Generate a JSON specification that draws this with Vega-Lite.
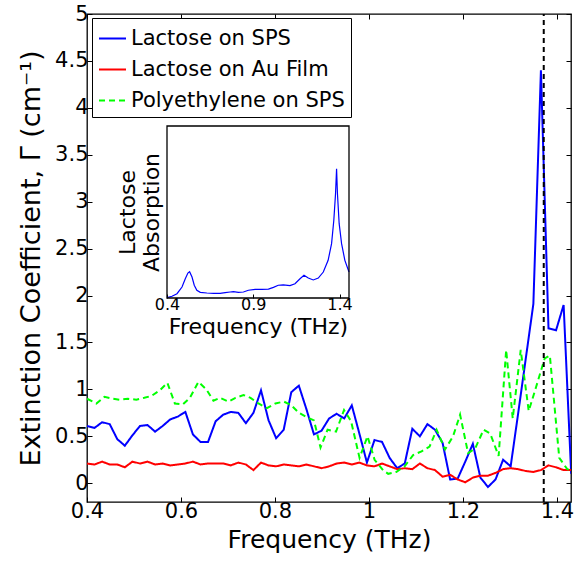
{
  "$schema": "https://vega.github.io/schema/vega-lite/v6.json",
  "width": 484,
  "height": 488,
  "autosize": {"type": "none"},
  "padding": {"left": 87, "top": 14, "right": 6, "bottom": 61},
  "background": "white",
  "config": {
    "font": "DejaVu Sans",
    "view": {"stroke": "black", "strokeWidth": 1.3},
    "axis": {"grid": false, "labelColor": "black", "titleColor": "black", "tickColor": "black", "titleFontWeight": "normal", "labelFlush": false, "labelOverlap": false}
  },
  "datasets": {
    "main": [
      {"s":"Lactose on SPS","f":0.4,"v":0.61},{"s":"Lactose on SPS","f":0.4161,"v":0.59},{"s":"Lactose on SPS","f":0.4322,"v":0.65},{"s":"Lactose on SPS","f":0.4483,"v":0.63},{"s":"Lactose on SPS","f":0.4644,"v":0.47},
      {"s":"Lactose on SPS","f":0.4805,"v":0.40},{"s":"Lactose on SPS","f":0.4966,"v":0.51},{"s":"Lactose on SPS","f":0.5127,"v":0.61},{"s":"Lactose on SPS","f":0.5288,"v":0.62},{"s":"Lactose on SPS","f":0.5449,"v":0.55},
      {"s":"Lactose on SPS","f":0.561,"v":0.61},{"s":"Lactose on SPS","f":0.5771,"v":0.68},{"s":"Lactose on SPS","f":0.5932,"v":0.71},{"s":"Lactose on SPS","f":0.6093,"v":0.76},{"s":"Lactose on SPS","f":0.6254,"v":0.52},
      {"s":"Lactose on SPS","f":0.6415,"v":0.44},{"s":"Lactose on SPS","f":0.6576,"v":0.44},{"s":"Lactose on SPS","f":0.6737,"v":0.66},{"s":"Lactose on SPS","f":0.6898,"v":0.73},{"s":"Lactose on SPS","f":0.7059,"v":0.76},
      {"s":"Lactose on SPS","f":0.722,"v":0.75},{"s":"Lactose on SPS","f":0.7381,"v":0.64},{"s":"Lactose on SPS","f":0.7542,"v":0.75},{"s":"Lactose on SPS","f":0.7703,"v":0.99},{"s":"Lactose on SPS","f":0.7864,"v":0.67},
      {"s":"Lactose on SPS","f":0.8025,"v":0.48},{"s":"Lactose on SPS","f":0.8186,"v":0.57},{"s":"Lactose on SPS","f":0.8347,"v":0.97},{"s":"Lactose on SPS","f":0.8508,"v":1.04},{"s":"Lactose on SPS","f":0.8669,"v":0.79},
      {"s":"Lactose on SPS","f":0.883,"v":0.52},{"s":"Lactose on SPS","f":0.8991,"v":0.56},{"s":"Lactose on SPS","f":0.9152,"v":0.69},{"s":"Lactose on SPS","f":0.9313,"v":0.74},{"s":"Lactose on SPS","f":0.9474,"v":0.69},
      {"s":"Lactose on SPS","f":0.9635,"v":0.83},{"s":"Lactose on SPS","f":0.9796,"v":0.53},{"s":"Lactose on SPS","f":0.9957,"v":0.22},{"s":"Lactose on SPS","f":1.0118,"v":0.46},{"s":"Lactose on SPS","f":1.0279,"v":0.44},
      {"s":"Lactose on SPS","f":1.044,"v":0.27},{"s":"Lactose on SPS","f":1.0601,"v":0.16},{"s":"Lactose on SPS","f":1.0762,"v":0.21},{"s":"Lactose on SPS","f":1.0923,"v":0.58},{"s":"Lactose on SPS","f":1.1084,"v":0.50},
      {"s":"Lactose on SPS","f":1.1245,"v":0.63},{"s":"Lactose on SPS","f":1.1406,"v":0.57},{"s":"Lactose on SPS","f":1.1567,"v":0.43},{"s":"Lactose on SPS","f":1.1728,"v":0.04},{"s":"Lactose on SPS","f":1.1889,"v":0.05},
      {"s":"Lactose on SPS","f":1.205,"v":0.23},{"s":"Lactose on SPS","f":1.2211,"v":0.42},{"s":"Lactose on SPS","f":1.2372,"v":0.06},{"s":"Lactose on SPS","f":1.2533,"v":-0.04},{"s":"Lactose on SPS","f":1.2694,"v":0.04},
      {"s":"Lactose on SPS","f":1.2855,"v":0.25},{"s":"Lactose on SPS","f":1.3016,"v":0.18},{"s":"Lactose on SPS","f":1.3177,"v":0.75},{"s":"Lactose on SPS","f":1.3338,"v":1.33},{"s":"Lactose on SPS","f":1.3499,"v":1.91},
      {"s":"Lactose on SPS","f":1.366,"v":4.40},{"s":"Lactose on SPS","f":1.3821,"v":1.65},{"s":"Lactose on SPS","f":1.3982,"v":1.63},{"s":"Lactose on SPS","f":1.4143,"v":1.90},{"s":"Lactose on SPS","f":1.4304,"v":0.10},

      {"s":"Lactose on Au Film","f":0.4,"v":0.21},{"s":"Lactose on Au Film","f":0.4161,"v":0.20},{"s":"Lactose on Au Film","f":0.4322,"v":0.23},{"s":"Lactose on Au Film","f":0.4483,"v":0.20},{"s":"Lactose on Au Film","f":0.4644,"v":0.20},
      {"s":"Lactose on Au Film","f":0.4805,"v":0.17},{"s":"Lactose on Au Film","f":0.4966,"v":0.23},{"s":"Lactose on Au Film","f":0.5127,"v":0.21},{"s":"Lactose on Au Film","f":0.5288,"v":0.23},{"s":"Lactose on Au Film","f":0.5449,"v":0.20},
      {"s":"Lactose on Au Film","f":0.561,"v":0.21},{"s":"Lactose on Au Film","f":0.5771,"v":0.19},{"s":"Lactose on Au Film","f":0.5932,"v":0.20},{"s":"Lactose on Au Film","f":0.6093,"v":0.21},{"s":"Lactose on Au Film","f":0.6254,"v":0.23},
      {"s":"Lactose on Au Film","f":0.6415,"v":0.20},{"s":"Lactose on Au Film","f":0.6576,"v":0.21},{"s":"Lactose on Au Film","f":0.6737,"v":0.21},{"s":"Lactose on Au Film","f":0.6898,"v":0.21},{"s":"Lactose on Au Film","f":0.7059,"v":0.19},
      {"s":"Lactose on Au Film","f":0.722,"v":0.22},{"s":"Lactose on Au Film","f":0.7381,"v":0.20},{"s":"Lactose on Au Film","f":0.7542,"v":0.14},{"s":"Lactose on Au Film","f":0.7703,"v":0.22},{"s":"Lactose on Au Film","f":0.7864,"v":0.19},
      {"s":"Lactose on Au Film","f":0.8025,"v":0.18},{"s":"Lactose on Au Film","f":0.8186,"v":0.20},{"s":"Lactose on Au Film","f":0.8347,"v":0.19},{"s":"Lactose on Au Film","f":0.8508,"v":0.18},{"s":"Lactose on Au Film","f":0.8669,"v":0.20},
      {"s":"Lactose on Au Film","f":0.883,"v":0.18},{"s":"Lactose on Au Film","f":0.8991,"v":0.16},{"s":"Lactose on Au Film","f":0.9152,"v":0.18},{"s":"Lactose on Au Film","f":0.9313,"v":0.21},{"s":"Lactose on Au Film","f":0.9474,"v":0.22},
      {"s":"Lactose on Au Film","f":0.9635,"v":0.20},{"s":"Lactose on Au Film","f":0.9796,"v":0.22},{"s":"Lactose on Au Film","f":0.9957,"v":0.19},{"s":"Lactose on Au Film","f":1.0118,"v":0.18},{"s":"Lactose on Au Film","f":1.0279,"v":0.21},
      {"s":"Lactose on Au Film","f":1.044,"v":0.18},{"s":"Lactose on Au Film","f":1.0601,"v":0.15},{"s":"Lactose on Au Film","f":1.0762,"v":0.16},{"s":"Lactose on Au Film","f":1.0923,"v":0.15},{"s":"Lactose on Au Film","f":1.1084,"v":0.21},
      {"s":"Lactose on Au Film","f":1.1245,"v":0.16},{"s":"Lactose on Au Film","f":1.1406,"v":0.14},{"s":"Lactose on Au Film","f":1.1567,"v":0.07},{"s":"Lactose on Au Film","f":1.1728,"v":0.09},{"s":"Lactose on Au Film","f":1.1889,"v":0.04},
      {"s":"Lactose on Au Film","f":1.205,"v":0.01},{"s":"Lactose on Au Film","f":1.2211,"v":0.06},{"s":"Lactose on Au Film","f":1.2372,"v":0.08},{"s":"Lactose on Au Film","f":1.2533,"v":0.08},{"s":"Lactose on Au Film","f":1.2694,"v":0.11},
      {"s":"Lactose on Au Film","f":1.2855,"v":0.15},{"s":"Lactose on Au Film","f":1.3016,"v":0.16},{"s":"Lactose on Au Film","f":1.3177,"v":0.15},{"s":"Lactose on Au Film","f":1.3338,"v":0.13},{"s":"Lactose on Au Film","f":1.3499,"v":0.12},
      {"s":"Lactose on Au Film","f":1.366,"v":0.14},{"s":"Lactose on Au Film","f":1.3821,"v":0.19},{"s":"Lactose on Au Film","f":1.3982,"v":0.17},{"s":"Lactose on Au Film","f":1.4143,"v":0.14},{"s":"Lactose on Au Film","f":1.4304,"v":0.14},

      {"s":"Polyethylene on SPS","f":0.4,"v":0.90},{"s":"Polyethylene on SPS","f":0.420,"v":0.85},{"s":"Polyethylene on SPS","f":0.437,"v":0.92},{"s":"Polyethylene on SPS","f":0.456,"v":0.90},{"s":"Polyethylene on SPS","f":0.469,"v":0.89},
      {"s":"Polyethylene on SPS","f":0.487,"v":0.90},{"s":"Polyethylene on SPS","f":0.505,"v":0.89},{"s":"Polyethylene on SPS","f":0.522,"v":0.91},{"s":"Polyethylene on SPS","f":0.537,"v":0.93},{"s":"Polyethylene on SPS","f":0.555,"v":0.99},
      {"s":"Polyethylene on SPS","f":0.571,"v":1.07},{"s":"Polyethylene on SPS","f":0.587,"v":0.85},{"s":"Polyethylene on SPS","f":0.604,"v":0.84},{"s":"Polyethylene on SPS","f":0.619,"v":0.91},{"s":"Polyethylene on SPS","f":0.637,"v":1.08},
      {"s":"Polyethylene on SPS","f":0.654,"v":1.00},{"s":"Polyethylene on SPS","f":0.669,"v":0.88},{"s":"Polyethylene on SPS","f":0.683,"v":0.91},{"s":"Polyethylene on SPS","f":0.701,"v":0.87},{"s":"Polyethylene on SPS","f":0.716,"v":0.91},
      {"s":"Polyethylene on SPS","f":0.733,"v":0.94},{"s":"Polyethylene on SPS","f":0.748,"v":0.91},{"s":"Polyethylene on SPS","f":0.765,"v":0.85},{"s":"Polyethylene on SPS","f":0.783,"v":0.80},{"s":"Polyethylene on SPS","f":0.801,"v":0.85},
      {"s":"Polyethylene on SPS","f":0.819,"v":0.87},{"s":"Polyethylene on SPS","f":0.835,"v":0.83},{"s":"Polyethylene on SPS","f":0.851,"v":0.75},{"s":"Polyethylene on SPS","f":0.869,"v":0.70},{"s":"Polyethylene on SPS","f":0.883,"v":0.67},
      {"s":"Polyethylene on SPS","f":0.897,"v":0.38},{"s":"Polyethylene on SPS","f":0.912,"v":0.57},{"s":"Polyethylene on SPS","f":0.930,"v":0.55},{"s":"Polyethylene on SPS","f":0.947,"v":0.78},{"s":"Polyethylene on SPS","f":0.962,"v":0.66},
      {"s":"Polyethylene on SPS","f":0.980,"v":0.27},{"s":"Polyethylene on SPS","f":0.997,"v":0.50},{"s":"Polyethylene on SPS","f":1.012,"v":0.25},{"s":"Polyethylene on SPS","f":1.030,"v":0.14},{"s":"Polyethylene on SPS","f":1.041,"v":0.10},
      {"s":"Polyethylene on SPS","f":1.058,"v":0.12},{"s":"Polyethylene on SPS","f":1.076,"v":0.18},{"s":"Polyethylene on SPS","f":1.094,"v":0.30},{"s":"Polyethylene on SPS","f":1.112,"v":0.34},{"s":"Polyethylene on SPS","f":1.129,"v":0.39},
      {"s":"Polyethylene on SPS","f":1.144,"v":0.57},{"s":"Polyethylene on SPS","f":1.162,"v":0.36},{"s":"Polyethylene on SPS","f":1.179,"v":0.50},{"s":"Polyethylene on SPS","f":1.194,"v":0.73},{"s":"Polyethylene on SPS","f":1.211,"v":0.32},
      {"s":"Polyethylene on SPS","f":1.226,"v":0.37},{"s":"Polyethylene on SPS","f":1.244,"v":0.57},{"s":"Polyethylene on SPS","f":1.258,"v":0.53},{"s":"Polyethylene on SPS","f":1.276,"v":0.29},{"s":"Polyethylene on SPS","f":1.292,"v":1.42},
      {"s":"Polyethylene on SPS","f":1.306,"v":0.69},{"s":"Polyethylene on SPS","f":1.323,"v":1.42},{"s":"Polyethylene on SPS","f":1.340,"v":0.77},{"s":"Polyethylene on SPS","f":1.356,"v":1.03},{"s":"Polyethylene on SPS","f":1.374,"v":1.33},
      {"s":"Polyethylene on SPS","f":1.385,"v":1.36},{"s":"Polyethylene on SPS","f":1.405,"v":0.27},{"s":"Polyethylene on SPS","f":1.422,"v":0.15},{"s":"Polyethylene on SPS","f":1.437,"v":0.13}
    ],
    "inset": [
      {"f":0.4,"a":0.2},{"f":0.429,"a":1.0},{"f":0.458,"a":2.5},{"f":0.487,"a":6.4},{"f":0.506,"a":11.2},{"f":0.521,"a":14.5},{"f":0.531,"a":15.3},{"f":0.545,"a":12.2},{"f":0.558,"a":7.4},{"f":0.573,"a":4.5},
      {"f":0.593,"a":3.3},{"f":0.631,"a":2.9},{"f":0.670,"a":2.7},{"f":0.708,"a":2.7},{"f":0.737,"a":3.1},{"f":0.766,"a":3.5},{"f":0.785,"a":3.7},{"f":0.814,"a":3.3},{"f":0.843,"a":3.5},{"f":0.872,"a":4.5},
      {"f":0.911,"a":5.0},{"f":0.949,"a":5.0},{"f":0.988,"a":5.2},{"f":1.017,"a":6.2},{"f":1.045,"a":7.4},{"f":1.074,"a":7.6},{"f":1.113,"a":7.2},{"f":1.142,"a":8.3},{"f":1.171,"a":11.2},{"f":1.194,"a":13.2},
      {"f":1.219,"a":11.6},{"f":1.248,"a":10.5},{"f":1.277,"a":11.6},{"f":1.306,"a":15.1},{"f":1.334,"a":21.9},{"f":1.354,"a":31.6},{"f":1.367,"a":45.2},{"f":1.377,"a":60.7},{"f":1.383,"a":75.2},{"f":1.388,"a":60.7},
      {"f":1.398,"a":43.2},{"f":1.412,"a":31.6},{"f":1.431,"a":21.9},{"f":1.455,"a":15.1}
    ]
  },
  "layer": [
    {
      "data": {"name": "main"},
      "mark": {"type": "line", "strokeWidth": 2, "clip": true},
      "encoding": {
        "x": {"field": "f", "type": "quantitative",
          "scale": {"domain": [0.4, 1.43], "nice": false, "zero": false},
          "axis": {"orient": "bottom", "values": [0.4, 0.6, 0.8, 1, 1.2, 1.4], "format": "~g", "labelFontSize": 21, "labelPadding": 3, "tickSize": -5, "domain": false,
            "title": "Frequency (THz)", "titleFontSize": 25, "titlePadding": 6}},
        "y": {"field": "v", "type": "quantitative",
          "scale": {"domain": [-0.2, 5], "nice": false, "zero": false},
          "axis": {"orient": "left", "values": [0, 0.5, 1, 1.5, 2, 2.5, 3, 3.5, 4, 4.5, 5], "format": "~g", "labelFontSize": 21, "labelPadding": 4, "tickSize": -5, "domain": false,
            "title": "Extinction Coefficient, Γ (cm⁻¹)", "titleFontSize": 27, "titlePadding": 9}},
        "color": {"field": "s", "type": "nominal",
          "scale": {"domain": ["Lactose on SPS", "Lactose on Au Film", "Polyethylene on SPS"], "range": ["#0000ff", "#ff0000", "#00ff00"]},
          "legend": {"title": null, "orient": "none", "legendX": 5, "legendY": 4, "strokeColor": "black", "fillColor": "white", "padding": 6, "rowPadding": 6,
            "labelFontSize": 21, "labelColor": "black", "labelOffset": 4, "labelLimit": 400, "symbolType": "stroke", "symbolSize": 729, "symbolStrokeWidth": 2, "cornerRadius": 0}},
        "strokeDash": {"field": "s", "type": "nominal",
          "scale": {"domain": ["Lactose on SPS", "Lactose on Au Film", "Polyethylene on SPS"], "range": [[1, 0], [1, 0], [6, 4]]},
          "legend": {"title": null, "orient": "none", "legendX": 5, "legendY": 4, "strokeColor": "black", "fillColor": "white", "padding": 6, "rowPadding": 6,
            "labelFontSize": 21, "labelColor": "black", "labelOffset": 4, "labelLimit": 400, "symbolType": "stroke", "symbolSize": 729, "symbolStrokeWidth": 2, "cornerRadius": 0}}
      }
    },
    {
      "data": {"values": [{}]},
      "mark": {"type": "rule", "strokeDash": [5, 4], "strokeWidth": 2, "color": "black"},
      "encoding": {
        "x": {"datum": 1.372, "type": "quantitative",
          "scale": {"domain": [0.4, 1.43], "nice": false, "zero": false},
          "axis": {"orient": "top", "values": [0.4, 0.6, 0.8, 1, 1.2, 1.4], "labels": false, "tickSize": -5, "domain": false, "title": null}},
        "y": {"datum": -0.2, "type": "quantitative",
          "scale": {"domain": [-0.2, 5], "nice": false, "zero": false},
          "axis": {"orient": "right", "values": [0, 0.5, 1, 1.5, 2, 2.5, 3, 3.5, 4, 4.5, 5], "labels": false, "tickSize": -5, "domain": false, "title": null}},
        "y2": {"datum": 5}
      }
    },
    {
      "data": {"name": "inset"},
      "layer": [
        {
          "mark": {"type": "line", "color": "#0000ff", "strokeWidth": 1.2},
          "encoding": {
            "x": {"field": "f", "type": "quantitative",
              "scale": {"domain": [0.4, 1.455], "range": [80, 262], "nice": false, "zero": false},
              "axis": {"orient": "bottom", "offset": -204, "values": [0.4, 0.9, 1.4], "format": ".1f", "labelFontSize": 16, "labelPadding": 2, "tickSize": -4, "domain": false,
                "title": "Frequency (THz)", "titleFontSize": 22, "titlePadding": 4}},
            "y": {"field": "a", "type": "quantitative",
              "scale": {"domain": [0, 100], "range": [284, 112], "nice": false, "zero": false},
              "axis": {"orient": "left", "offset": -80, "labels": false, "ticks": false, "domain": false,
                "title": ["Lactose", "Absorption"], "titleFontSize": 22, "titlePadding": 4, "titleLineHeight": 24}}
          }
        },
        {
          "data": {"values": [{}]},
          "mark": {"type": "rect", "fill": null, "stroke": "black", "strokeWidth": 1.3},
          "encoding": {
            "x": {"datum": 0.4, "type": "quantitative"},
            "x2": {"datum": 1.455},
            "y": {"datum": 0, "type": "quantitative"},
            "y2": {"datum": 100}
          }
        }
      ]
    }
  ],
  "resolve": {"scale": {"x": "independent", "y": "independent", "color": "independent", "strokeDash": "independent"}}
}
